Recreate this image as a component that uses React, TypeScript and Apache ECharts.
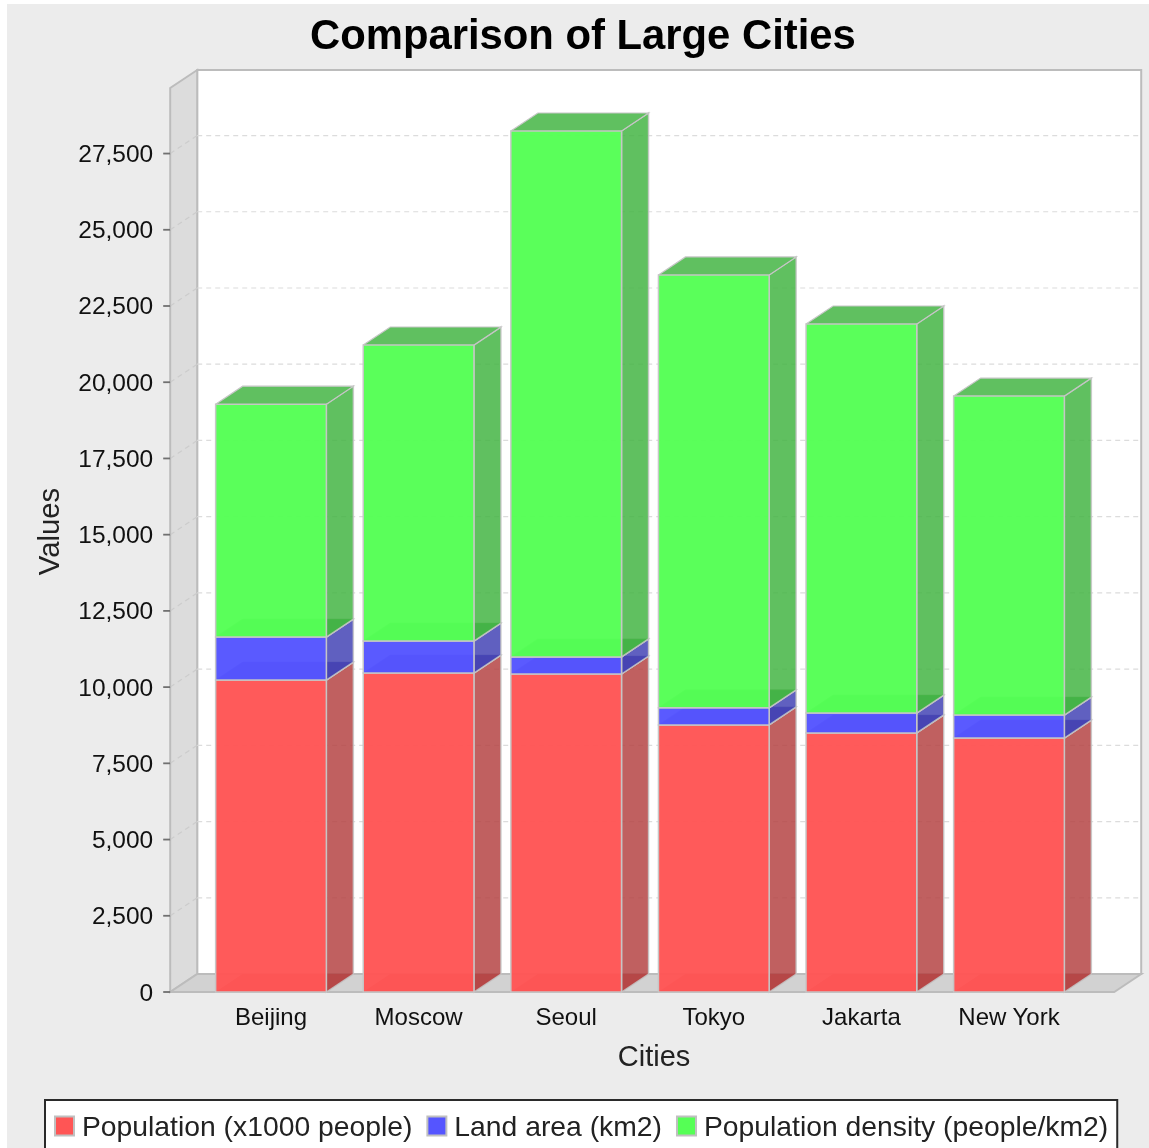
import React, { useEffect, useRef } from "react";
import * as echarts from "echarts";

const categories = ["Beijing", "Moscow", "Seoul", "Tokyo", "Jakarta", "New York"];
const population = [10230, 10460, 10430, 8760, 8495, 8330];
const landArea = [1410, 1050, 560, 560, 655, 755];
const density = [7640, 9710, 17250, 14200, 12760, 10460];
const seriesNames = ["Population (x1000 people)", "Land area (km2)", "Population density (people/km2)"];
const frontColors = ["#ff5555", "#5555ff", "#55ff55"];
const sideColors = ["#b54444", "#4444b5", "#44b544"];
const gridTicks = [2500, 5000, 7500, 10000, 12500, 15000, 17500, 20000, 22500, 25000, 27500];
const axisTicks = [0, ...gridTicks];

const DX = 27;
const DY = -18;
const SIDE_ALPHA = 0.85;
const FRONT_ALPHA = 0.97;
const EDGE = "#c6c6c6";
const AXIS_MAX = 29650;

function poly(points: number[][], fill: string, stroke: string | undefined, opacity: number, lineWidth = 1.5) {
  return {
    type: "polygon",
    shape: { points },
    style: { fill, stroke: stroke ?? "none", lineWidth: stroke ? lineWidth : 0, opacity },
  };
}

const stacks = [population, landArea, density];

function barSeries(idx: number) {
  return {
    name: seriesNames[idx],
    type: "custom",
    coordinateSystem: "cartesian2d",
    z: 10 + idx,
    itemStyle: { color: frontColors[idx], borderColor: "#c0c0c0", borderWidth: 1 },
    encode: { x: 0, y: [1, 2] },
    data: categories.map((_, i) => {
      let base = 0;
      for (let k = 0; k < idx; k++) base += stacks[k][i];
      return [i, base, base + stacks[idx][i]];
    }),
    renderItem: (_p: any, api: any) => {
      const i = api.value(0);
      const lo = api.coord([i, api.value(1)]);
      const hi = api.coord([i, api.value(2)]);
      const w = api.size([1, 0])[0] * 0.75;
      const l = lo[0] - w / 2;
      const r = lo[0] + w / 2;
      const yb = lo[1];
      const yt = hi[1];
      const front = frontColors[idx];
      const side = sideColors[idx];
      return {
        type: "group",
        children: [
          poly([[l, yb], [r, yb], [r + DX, yb + DY], [l + DX, yb + DY]], side, undefined, SIDE_ALPHA),
          poly([[r, yb], [r + DX, yb + DY], [r + DX, yt + DY], [r, yt]], side, EDGE, SIDE_ALPHA),
          poly([[l, yt], [r, yt], [r + DX, yt + DY], [l + DX, yt + DY]], side, undefined, SIDE_ALPHA),
          poly([[l, yb], [r, yb], [r, yt], [l, yt]], front, EDGE, FRONT_ALPHA),
          {
            type: "polyline",
            shape: { points: [[l, yt], [l + DX, yt + DY], [r + DX, yt + DY], [r, yt]] },
            style: { fill: "none", stroke: EDGE, lineWidth: 1.2 },
          },
        ],
      };
    },
  };
}

const wallSeries = {
  type: "custom",
  coordinateSystem: "cartesian2d",
  silent: true,
  z: 1,
  data: [[0, 0]],
  renderItem: (_p: any, api: any) => {
    const o = api.coord([0, 0]);
    const t = api.coord([0, AXIS_MAX]);
    const step = api.size([1, 0])[0];
    const x0 = o[0] - step / 2 - DX;
    const x1 = x0 + 944;
    const yb = o[1];
    const yt = t[1];
    const line = "#bcbcbc";
    return {
      type: "group",
      children: [
        poly([[x0 + DX, yt + DY], [x1 + DX, yt + DY], [x1 + DX, yb + DY], [x0 + DX, yb + DY]], "#ffffff", line, 1, 2),
        poly([[x0, yb], [x0 + DX, yb + DY], [x0 + DX, yt + DY], [x0, yt]], "#dcdcdc", line, 1, 2),
        poly([[x0, yb], [x1, yb], [x1 + DX, yb + DY], [x0 + DX, yb + DY]], "#d2d2d2", line, 1, 2),
      ],
    };
  },
};

const gridSeries = {
  type: "custom",
  coordinateSystem: "cartesian2d",
  silent: true,
  z: 2,
  data: gridTicks.map((v) => [0, v]),
  renderItem: (_p: any, api: any) => {
    const p = api.coord([0, api.value(1)]);
    const step = api.size([1, 0])[0];
    const x0 = p[0] - step / 2 - DX;
    const x1 = x0 + 944;
    const style = { stroke: "#dcdcdc", lineWidth: 1.2, lineDash: [5, 4] };
    return {
      type: "group",
      children: [
        { type: "line", shape: { x1: x0, y1: p[1], x2: x0 + DX, y2: p[1] + DY }, style: { ...style, stroke: "#cccccc" } },
        { type: "line", shape: { x1: x0 + DX, y1: p[1] + DY, x2: x1 + DX, y2: p[1] + DY }, style },
      ],
    };
  },
};

const tickSeries = {
  type: "custom",
  coordinateSystem: "cartesian2d",
  silent: true,
  z: 3,
  data: axisTicks.map((v) => [0, v]),
  renderItem: (_p: any, api: any) => {
    const p = api.coord([0, api.value(1)]);
    const step = api.size([1, 0])[0];
    const x0 = p[0] - step / 2 - DX;
    return {
      type: "group",
      children: [
        {
          type: "line",
          shape: { x1: x0 - 7, y1: p[1], x2: x0, y2: p[1] },
          style: { stroke: "#707070", lineWidth: 1.8 },
        },
      ],
    };
  },
};

export default function App() {
  const ref = useRef<HTMLDivElement>(null);
  useEffect(() => {
    const chart = echarts.init(ref.current!, undefined, { renderer: "svg" });
    chart.setOption({
      animation: false,
      color: frontColors,
      backgroundColor: "#ffffff",
      textStyle: { fontFamily: "Liberation Sans" },
      graphic: [
        { type: "rect", z: -100, silent: true, shape: { x: 7, y: 4, width: 1142, height: 1144 }, style: { fill: "#ececec" } },
      ],
      title: {
        text: "Comparison of Large Cities",
        left: 305,
        top: 8,
        textStyle: { fontFamily: "Liberation Sans", fontWeight: "bold", fontSize: 41.8, color: "#000" },
      },
      legend: {
        left: 45,
        top: 1100,
        itemWidth: 19,
        itemHeight: 19,
        itemGap: 14,
        padding: [12, 9, 14, 9],
        backgroundColor: "#ffffff",
        borderColor: "#2a2a2a",
        borderWidth: 2,
        borderRadius: 0,
        icon: "rect",
        selectedMode: false,
        data: seriesNames,
        textStyle: { fontFamily: "Liberation Sans", fontSize: 28.3, color: "#222", padding: [0, 0, 0, 3] },
      },
      grid: { left: 197.2, width: 885.6, top: 88, height: 904, containLabel: false },
      xAxis: {
        type: "category",
        data: categories,
        name: "Cities",
        nameLocation: "middle",
        nameGap: 49,
        nameTextStyle: { fontFamily: "Liberation Sans", fontSize: 29, color: "#222", padding: [0, 0, 0, 28] },
        axisLine: { show: false },
        axisTick: { show: false },
        axisLabel: { fontFamily: "Liberation Sans", fontSize: 24, color: "#111", margin: 12, interval: 0 },
      },
      yAxis: {
        type: "value",
        min: 0,
        max: AXIS_MAX,
        interval: 2500,
        offset: 27,
        name: "Values",
        nameLocation: "middle",
        nameGap: 107,
        nameTextStyle: { fontFamily: "Liberation Sans", fontSize: 29.3, color: "#222", padding: [0, 0, 0, 17] },
        axisLine: { show: false },
        axisTick: { show: false },
        splitLine: { show: false },
        axisLabel: {
          fontFamily: "Liberation Sans",
          fontSize: 24.5,
          color: "#111",
          margin: 17,
          showMaxLabel: false,
          formatter: (v: number) => v.toLocaleString("en-US"),
        },
      },
      series: [wallSeries, gridSeries, tickSeries, barSeries(0), barSeries(1), barSeries(2)],
    });
    return () => chart.dispose();
  }, []);
  return (
    <div
      ref={ref}
      style={{ position: "fixed", left: 0, top: 0, width: 1149, height: 1148, filter: "blur(0.6px)" }}
    />
  );
}
